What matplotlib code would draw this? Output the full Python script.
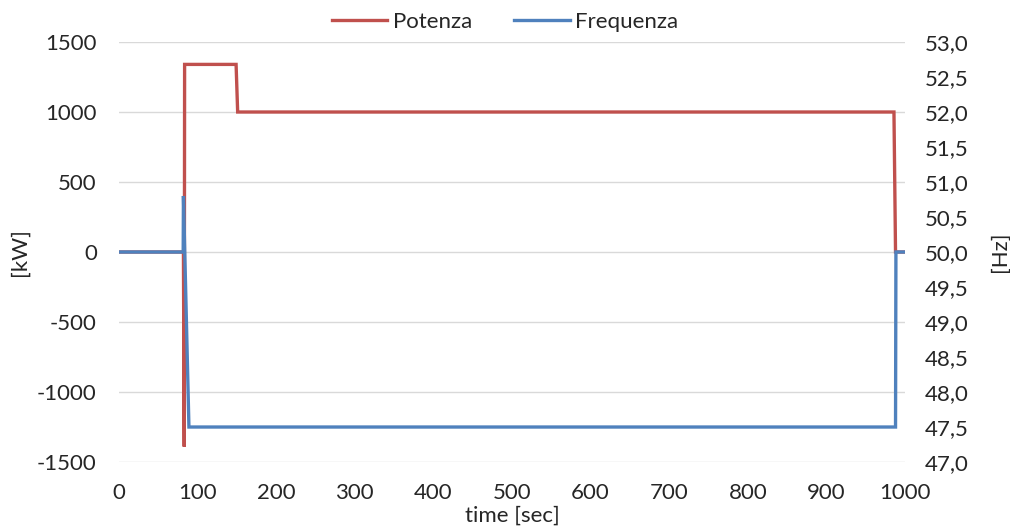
import matplotlib.pyplot as plt
from matplotlib.ticker import FuncFormatter

# Potenza (kW) vs time
t_pot = [0, 82, 83, 83.5, 149, 151, 986, 988, 1000]
p_kw = [0, 0, -1390, 1340, 1340, 1000, 1000, 0, 0]

# Frequenza (Hz) vs time
t_freq = [0, 81.7, 82, 89, 988, 988.5, 1000]
f_hz = [50.0, 50.0, 50.8, 47.5, 47.5, 50.0, 50.0]

plt.rcParams['font.family'] = ['Lato', 'DejaVu Sans']
plt.rcParams['axes.unicode_minus'] = False
red = '#C0504D'
blue = '#4F81BD'
txt = '#262626'
fs = 16

fig = plt.figure(figsize=(10.1, 5.27), dpi=100)
ax = fig.add_axes([0.1178, 0.1233, 0.7782, 0.797])
ax2 = ax.twinx()

l1, = ax.plot(t_pot, p_kw, color=red, lw=2.4, label='Potenza', solid_joinstyle='miter')
l2, = ax2.plot(t_freq, f_hz, color=blue, lw=2.4, label='Frequenza', solid_joinstyle='miter')

ax.set_xlim(0, 1000)
ax.set_ylim(-1500, 1500)
ax2.set_ylim(47.0, 53.0)
ax.set_xticks(range(0, 1001, 100))
ax.set_yticks(range(-1500, 1501, 500))
ax2.set_yticks([47.0 + 0.5 * i for i in range(13)])
ax2.yaxis.set_major_formatter(FuncFormatter(lambda v, p: f'{v:.1f}'.replace('.', ',')))

ax.grid(axis='y', color='#D9D9D9', lw=1)
ax.set_axisbelow(True)
for a in (ax, ax2):
    for s in a.spines.values():
        s.set_visible(False)
    a.tick_params(length=0, labelsize=fs, colors=txt)
ax.tick_params(axis='y', pad=16)
ax2.tick_params(axis='y', pad=14)
ax.tick_params(axis='x', pad=15)

ax.set_ylabel('[kW]', fontsize=fs, color=txt, va='center')
ax.yaxis.set_label_coords(-0.126, 0.5)
ax2.set_ylabel('[Hz]', fontsize=fs, color=txt, rotation=90, va='center')
ax2.yaxis.set_label_coords(1.121, 0.5)
ax.set_xlabel('time [sec]', fontsize=fs, color=txt, va='center')
ax.xaxis.set_label_coords(0.5, -0.128)

fig.legend(handles=[l1, l2], loc='upper center', bbox_to_anchor=(0.5, 1.015), ncol=2,
           frameon=False, fontsize=fs, handlelength=2.5, columnspacing=1.9,
           labelcolor=txt, handletextpad=0.25)

fig.savefig('out.png', dpi=100)
